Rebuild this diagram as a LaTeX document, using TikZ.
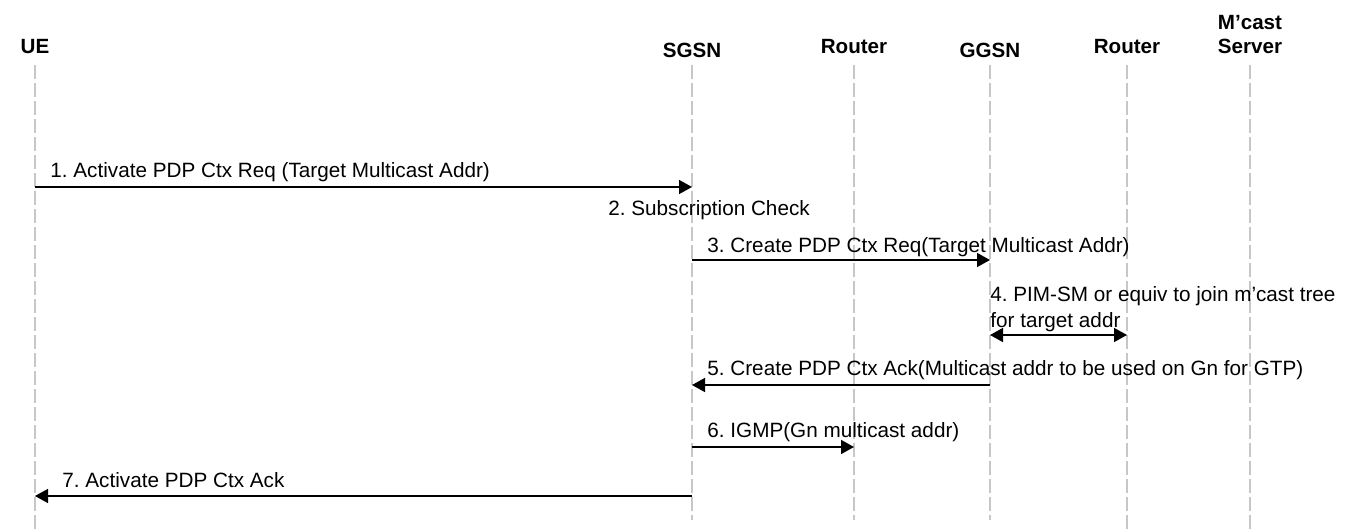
\documentclass[tikz,border=0pt]{standalone}
\usepackage{fontspec}
\setmainfont{Liberation Sans}
\usetikzlibrary{arrows.meta}
\frenchspacing
\begin{document}
\begin{tikzpicture}[x=0.5pt,y=-0.5pt,
  life/.style={draw=black!22, line width=0.75pt, dash pattern=on 7pt off 2pt},
  msg/.style={draw=black, line width=0.75pt, -{Triangle[length=6.5pt,width=7pt]}},
  dmsg/.style={draw=black, line width=0.75pt, {Triangle[length=6.5pt,width=7pt]}-{Triangle[length=6.5pt,width=7pt]}},
  hdr/.style={font=\fontsize{10.3}{12.5}\selectfont\bfseries, inner sep=0pt, anchor=base, align=center},
  lbl/.style={font=\fontsize{10.35}{13}\selectfont, inner sep=0pt, anchor=base west, align=left}]
\useasboundingbox (0,0) rectangle (1356,530);
% headers
\node[hdr] (hUE) at (35,54) {UE};
\node[hdr] (hSGSN) at (692,57) {SGSN};
\node[hdr] (hR1) at (854,54) {Router};
\node[hdr] (hGGSN) at (990,57) {GGSN};
\node[hdr] (hR2) at (1127,54) {Router};
\node[hdr] (hSrvA) at (1250,29) {M’cast};
\node[hdr] (hSrv) at (1250,54) {Server};
% lifelines
\coordinate (tUE) at (35,65);   \coordinate (bUE) at (35,530);
\coordinate (tSG) at (692,65);  \coordinate (bSG) at (692,520);
\coordinate (tR1) at (854,65);  \coordinate (bR1) at (854,520);
\coordinate (tGG) at (990,65);  \coordinate (bGG) at (990,520);
\coordinate (tR2) at (1127,65); \coordinate (bR2) at (1127,530);
\coordinate (tSV) at (1250,65); \coordinate (bSV) at (1250,530);
\foreach \a/\b in {tUE/bUE,tSG/bSG,tR1/bR1,tGG/bGG,tR2/bR2,tSV/bSV}
  \draw[life] (\a) -- (\b);
% message endpoints
\coordinate (m1a) at (35,187);   \coordinate (m1b) at (692,187);
\coordinate (m3a) at (692,260);  \coordinate (m3b) at (990,260);
\coordinate (m4a) at (990,335);  \coordinate (m4b) at (1127,335);
\coordinate (m5a) at (990,385);  \coordinate (m5b) at (692,385);
\coordinate (m6a) at (692,447);  \coordinate (m6b) at (854,447);
\coordinate (m7a) at (692,496);  \coordinate (m7b) at (35,496);
\draw[msg] (m1a) -- (m1b);
\draw[msg] (m3a) -- (m3b);
\draw[dmsg] (m4a) -- (m4b);
\draw[msg] (m5a) -- (m5b);
\draw[msg] (m6a) -- (m6b);
\draw[msg] (m7a) -- (m7b);
% labels
\node[lbl] (l1) at (50,177) {1. Activate PDP Ctx Req (Target Multicast Addr)};
\node[lbl] (l2) at (608,215) {2. Subscription Check};
\node[lbl] (l3) at (707,252) {3. Create PDP Ctx Req(Target Multicast Addr)};
\node[lbl] (l4) at (990,327) {4. PIM-SM or equiv to join m’cast tree\\for target addr};
\node[lbl] (l5) at (707,375) {5. Create PDP Ctx Ack(Multicast addr to be used on Gn for GTP)};
\node[lbl] (l6) at (707,437) {6. IGMP(Gn multicast addr)};
\node[lbl] (l7) at (62,487) {7. Activate PDP Ctx Ack};
\end{tikzpicture}
\end{document}
